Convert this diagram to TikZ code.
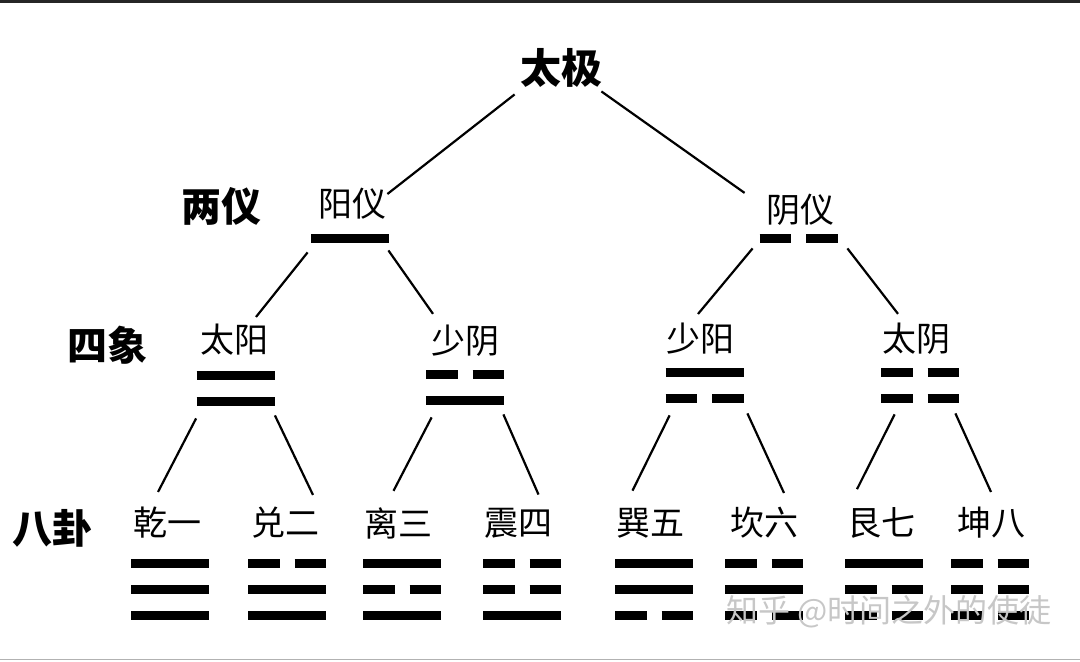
\documentclass[tikz,border=0pt]{standalone}
\usepackage{fontspec}
\newfontfamily\cjk{Noto Sans CJK SC}

\tikzset{
  level/.style={font=\cjk\bfseries\fontsize{20}{24}\selectfont, inner sep=0pt},
  smalltxt/.style={font=\cjk\fontsize{17}{20}\selectfont, inner sep=0pt},
  yaoline/.style={line width=4.5pt},
  link/.style={line width=1.1pt},
  symbox/.style={inner sep=0pt, minimum width=39pt},
}

% one line: x, y, 1 = yang, 0 = yin
\newcommand{\yao}[3]{%
  \ifnum#3=1
    \draw[yaoline] (#1-39,#2) -- (#1+39,#2);
  \else
    \draw[yaoline] (#1-39,#2) -- (#1-7.5,#2) (#1+7.5,#2) -- (#1+39,#2);
  \fi}

% two lines: name, x, y of upper line, upper, lower
\newcommand{\xiang}[5]{%
  \node[symbox, minimum height=17.5pt] (#1) at (#2,#3+13) {};
  \yao{#2}{#3}{#4}\yao{#2}{#3+26}{#5}}

% trigram: name, x of label, label, x of lines, top, middle, bottom
\newcommand{\gua}[7]{%
  \node[smalltxt] (#1) at (#2,523) {#3};
  \yao{#4}{563}{#5}\yao{#4}{589}{#6}\yao{#4}{615}{#7}}

\begin{document}
\begin{tikzpicture}[x=0.5pt, y=-0.5pt]
  \useasboundingbox (0,0) rectangle (1080,661);
  \fill[black!85] (0,0) rectangle (1080,3);
  \draw[black!30, line width=0.75pt] (0,659.5) -- (1080,659.5);

  % row titles
  \node[level, font=\cjk\bfseries\fontsize{20.5}{24}\selectfont] (taiji) at (561,68) {太极};
  \node[level] (liangyi) at (221,206) {两仪};
  \node[level] (sixiang) at (107,345) {四象};
  \node[level] (bagua) at (52,528) {八卦};

  % two modes
  \node[smalltxt] (yangyi) at (352,204) {阳仪};
  \node[smalltxt] (yinyi) at (800,210) {阴仪};
  \node[symbox, minimum height=4.5pt] (yangyisym) at (350,238) {};
  \node[symbox, minimum height=4.5pt] (yinyisym) at (798.5,238) {};
  \yao{350}{238}{1}
  \yao{798.5}{238}{0}

  % four images
  \node[smalltxt] (taiyang) at (234,340) {太阳};
  \node[smalltxt] (shaoyin) at (465,341) {少阴};
  \node[smalltxt] (shaoyang) at (700,339) {少阳};
  \node[smalltxt] (taiyin) at (916,339) {太阴};
  \xiang{taiyangsym}{235.5}{375}{1}{1}
  \xiang{shaoyinsym}{465}{374}{0}{1}
  \xiang{shaoyangsym}{704.5}{372}{1}{0}
  \xiang{taiyinsym}{920}{372}{0}{0}

  % eight trigrams
  \gua{qian}{167}{乾一}{170}{1}{1}{1}
  \gua{dui}{285}{兑二}{287}{0}{1}{1}
  \gua{li}{398}{离三}{402}{1}{0}{1}
  \gua{zhen}{518}{震四}{522}{0}{0}{1}
  \gua{xun}{650}{巽五}{654}{1}{1}{0}
  \gua{kan}{764}{坎六}{764}{0}{1}{0}
  \gua{gen}{881}{艮七}{884}{1}{0}{0}
  \gua{kun}{991}{坤八}{990}{0}{0}{0}

  % branches
  \draw[link] ([shift={(-5,6.5)}]taiji.south west) -- ([shift={(1,6)}]yangyi.north east);
  \draw[link] ([shift={(-1,3.5)}]taiji.south east) -- ([shift={(-21,-1)}]yinyi.north west);
  \draw[link] ([shift={(-3,9.5)}]yangyisym.south west) -- ([shift={(22,-7)}]taiyang.north);
  \draw[link] ([shift={(-1,7.5)}]yangyisym.south east) -- ([shift={(-32,-11)}]shaoyin.north);
  \draw[link] ([shift={(-6.5,5.5)}]yinyisym.south west) -- ([shift={(-2,-9)}]shaoyang.north);
  \draw[link] ([shift={(9.5,5.5)}]yinyisym.south east) -- ([shift={(-18,-9)}]taiyin.north);
  \draw[link] ([shift={(0,12.5)}]taiyangsym.south west) -- ([shift={(-9,-15)}]qian.north);
  \draw[link] ([shift={(0,9.5)}]taiyangsym.south east) -- ([shift={(28,-12)}]dui.north);
  \draw[link] ([shift={(6,12.5)}]shaoyinsym.south west) -- ([shift={(-4.5,-16)}]li.north);
  \draw[link] ([shift={(-1,9.5)}]shaoyinsym.south east) -- ([shift={(20.5,-13)}]zhen.north);
  \draw[link] ([shift={(4.5,12.5)}]shaoyangsym.south west) -- ([shift={(-17.5,-17)}]xun.north);
  \draw[link] ([shift={(3.5,10.5)}]shaoyangsym.south east) -- ([shift={(20,-14)}]kan.north);
  \draw[link] ([shift={(14,11.5)}]taiyinsym.south west) -- ([shift={(-24,-18)}]gen.north);
  \draw[link] ([shift={(-4,10.5)}]taiyinsym.south east) -- ([shift={(0,-15)}]kun.north);

  \node[font=\cjk\fontsize{16}{20}\selectfont, text=black!22, inner sep=0pt] (mark) at (889,612) {知乎 @时间之外的使徒};
\end{tikzpicture}
\end{document}
